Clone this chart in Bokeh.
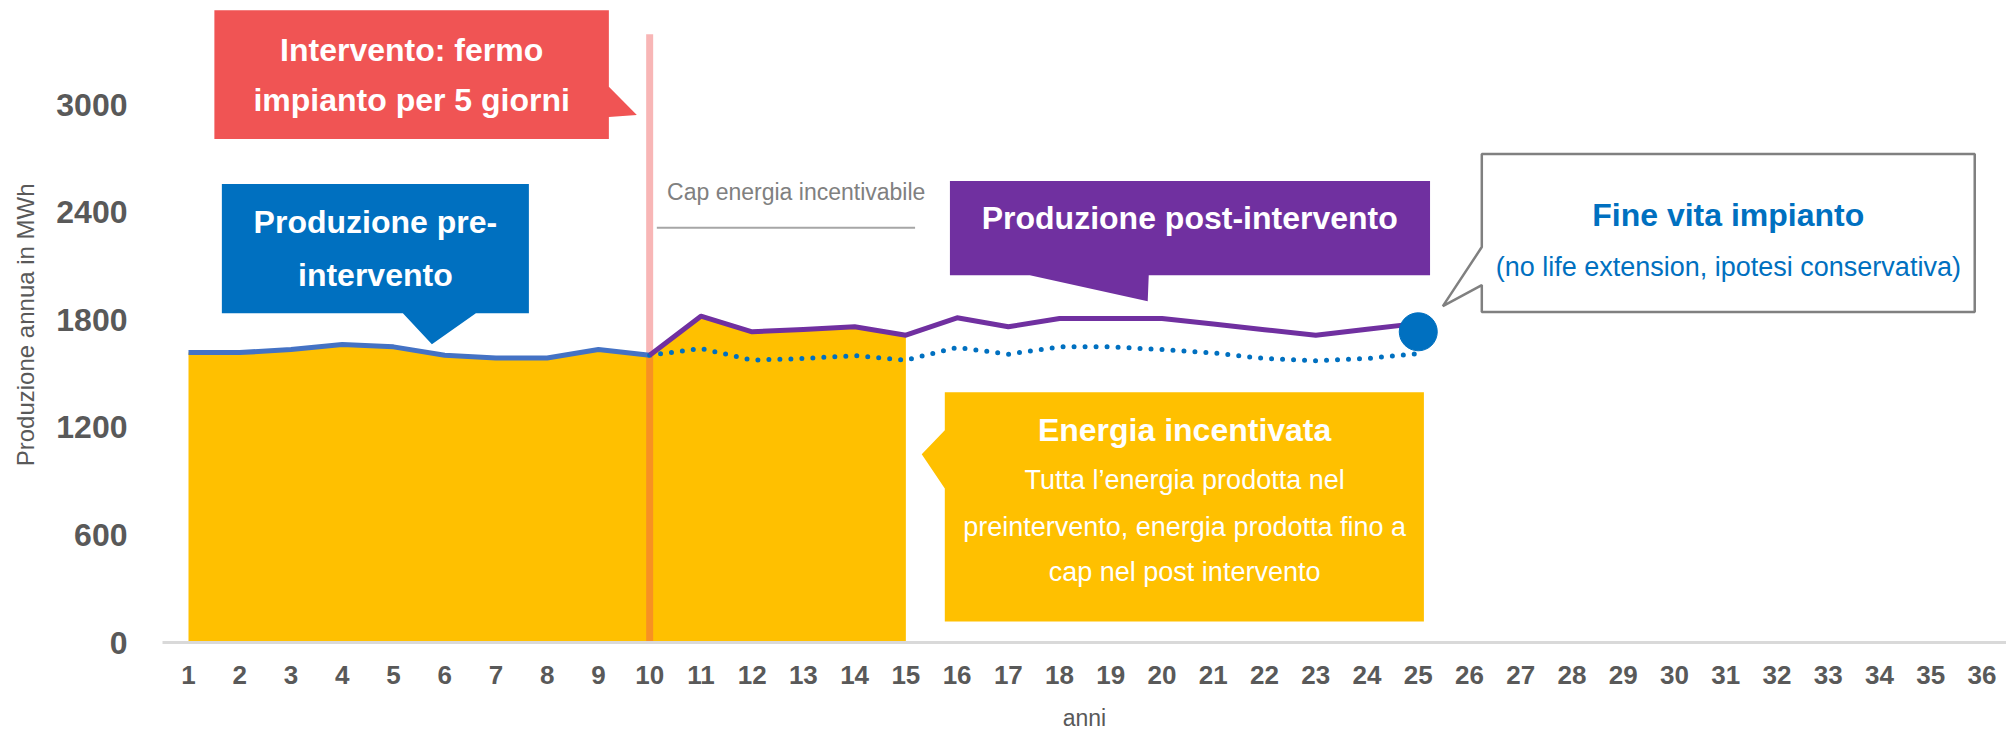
from bokeh.plotting import figure
from bokeh.models import Range1d, FixedTicker, ColumnDataSource
from bokeh.core.properties import value
from bokeh.embed import file_html
from bokeh.resources import INLINE

# ---------------- data ----------------
years_pre = [1, 2, 3, 4, 5, 6, 7, 8, 9, 10]
prod_pre = [1618, 1618, 1635, 1663, 1650, 1603, 1588, 1588, 1635, 1603]

years_post = [10, 11, 12, 13, 14, 15, 16, 17, 18, 19, 20, 21, 22, 23, 24, 25]
prod_post = [1603, 1821, 1734, 1747, 1762, 1715, 1812, 1762, 1808, 1808, 1808,
             1777, 1746, 1715, 1748, 1781]
prod_no_intervention = [1603, 1641, 1576, 1585, 1601, 1576, 1647, 1609, 1650, 1650,
                        1635, 1616, 1585, 1572, 1585, 1613]

intervention_year = 10
incentive_end_year = 15
cap_energy = 2315
end_of_life_year = 25
end_of_life_value = 1734

x_ticks = list(range(1, 37))
x_tick_labels = [str(v) for v in x_ticks]
y_ticks = [0, 600, 1200, 1800, 2400, 3000]

# ---------------- styling ----------------
FONT = "Liberation Sans"
GRAY = "#595959"

p = figure(width=2006, height=738,
           x_range=Range1d(0.4926, 36.48), y_range=Range1d(0, 3583),
           output_backend="svg", toolbar_location=None,
           min_border_left=162, min_border_right=0,
           min_border_top=0, min_border_bottom=96)
p.outline_line_color = None
p.grid.visible = False
p.background_fill_color = "white"
p.border_fill_color = "white"

# x axis
xa = p.xaxis[0]
xa.ticker = FixedTicker(ticks=x_ticks)
xa.major_label_overrides = {t: l for t, l in zip(x_ticks, x_tick_labels)}
xa.axis_line_color = "#D9D9D9"
xa.axis_line_width = 3
xa.major_tick_line_color = None
xa.minor_tick_line_color = None
xa.major_tick_out = 0
xa.major_tick_in = 0
xa.major_label_text_font = FONT
xa.major_label_text_font_size = "26px"
xa.major_label_text_font_style = "bold"
xa.major_label_text_color = GRAY
xa.major_label_standoff = 23
xa.axis_label = "anni"
xa.axis_label_text_font = FONT
xa.axis_label_text_font_size = "23px"
xa.axis_label_text_font_style = "normal"
xa.axis_label_text_color = GRAY
xa.axis_label_standoff = 18

# y axis
ya = p.yaxis[0]
ya.ticker = FixedTicker(ticks=y_ticks)
ya.axis_line_color = None
ya.major_tick_line_color = None
ya.minor_tick_line_color = None
ya.major_tick_out = 0
ya.major_tick_in = 0
ya.major_label_text_font = FONT
ya.major_label_text_font_size = "32px"
ya.major_label_text_font_style = "bold"
ya.major_label_text_color = GRAY
ya.major_label_standoff = 35
ya.axis_label = "Produzione annua  in MWh"
ya.axis_label_text_font = FONT
ya.axis_label_text_font_size = "24px"
ya.axis_label_text_font_style = "normal"
ya.axis_label_text_color = GRAY
ya.axis_label_standoff = 14

# ---------------- incentivised energy area ----------------
area_years = years_pre + [y for y in years_post if intervention_year < y <= incentive_end_year]
area_top = prod_pre + [v for y, v in zip(years_post, prod_post)
                       if intervention_year < y <= incentive_end_year]
p.varea(x=area_years, y1=[0] * len(area_years), y2=area_top,
        fill_color="#FFC000")

# intervention marker line
p.segment(x0=[intervention_year], y0=[0], x1=[intervention_year], y1=[3395],
          line_color="#EE5252", line_alpha=0.42, line_width=7)

# cap line + label
p.segment(x0=[intervention_year + 0.14], y0=[cap_energy],
          x1=[incentive_end_year + 0.18], y1=[cap_energy],
          line_color="#A6A6A6", line_width=2)
p.text(x=[intervention_year + 0.34], y=[2514], text=["Cap energia incentivabile"],
       text_font=value(FONT), text_font_size=value("23px"),
       text_color="#808080", text_align="left", text_baseline="middle")

# series lines
p.line(years_pre, prod_pre, line_color="#4472C4", line_width=5, line_join="round")
p.line(years_post, prod_no_intervention, line_color="#0070C0", line_width=5,
       line_dash="0 11", line_cap="round")
p.line(years_post, prod_post, line_color="#7030A0", line_width=5, line_join="round")

# end of life marker
p.scatter(x=[end_of_life_year], y=[end_of_life_value], size=38,
          fill_color="#0070C0", line_color="#0070C0")

# ---------------- callouts ----------------
callouts = ColumnDataSource(dict(
    xs=[
        [1.505, 9.204, 9.204, 9.75, 9.204, 9.204, 1.505],
        [1.651, 7.643, 7.643, 6.609, 5.75, 5.184, 1.651],
        [15.86, 25.23, 25.23, 19.74, 19.72, 17.42, 15.86],
        [15.76, 25.11, 25.11, 15.76, 15.76, 15.31, 15.76],
    ],
    ys=[
        [3528, 3528, 3101, 2944, 2933, 2810, 2810],
        [2559, 2559, 1838, 1838, 1665, 1838, 1838],
        [2576, 2576, 2050, 2050, 1905, 2050, 2050],
        [1397, 1397, 117, 117, 860, 1050, 1184],
    ],
    color=["#F05454", "#0070C0", "#7030A0", "#FFC000"],
))
p.patches(xs="xs", ys="ys", fill_color="color", line_color=None, source=callouts)

p.patch(x=[26.24, 35.86, 35.86, 26.24, 26.24, 25.48, 26.24],
        y=[2726, 2726, 1844, 1844, 1995, 1877, 2207],
        fill_color="white", line_color="#808080", line_width=2.5)

bold = ColumnDataSource(dict(
    x=[5.355, 5.355, 4.647, 4.647, 20.54, 20.44],
    y=[3307, 3028, 2347, 2050, 2369, 1184],
    text=["Intervento: fermo", "impianto per 5 giorni",
          "Produzione pre-", "intervento",
          "Produzione post-intervento", "Energia incentivata"],
))
p.text(x="x", y="y", text="text", source=bold,
       text_font=value(FONT), text_font_size=value("32px"), text_font_style="bold",
       text_color="white", text_align="center", text_baseline="middle")

sub = ColumnDataSource(dict(
    x=[20.44, 20.44, 20.44],
    y=[905, 643, 391],
    text=["Tutta l\u2019energia prodotta nel",
          "preintervento, energia prodotta fino a",
          "cap nel post intervento"],
))
p.text(x="x", y="y", text="text", source=sub,
       text_font=value(FONT), text_font_size=value("27px"),
       text_color="white", text_align="center", text_baseline="middle")

p.text(x=[31.05], y=[2386], text=["Fine vita impianto"],
       text_font=value(FONT), text_font_size=value("32px"), text_font_style="bold",
       text_color="#0070C0", text_align="center", text_baseline="middle")
p.text(x=[31.05], y=[2095], text=["(no life extension, ipotesi conservativa)"],
       text_font=value(FONT), text_font_size=value("27px"),
       text_color="#0070C0", text_align="center", text_baseline="middle")

open("out.html", "w").write(file_html(p, INLINE))
